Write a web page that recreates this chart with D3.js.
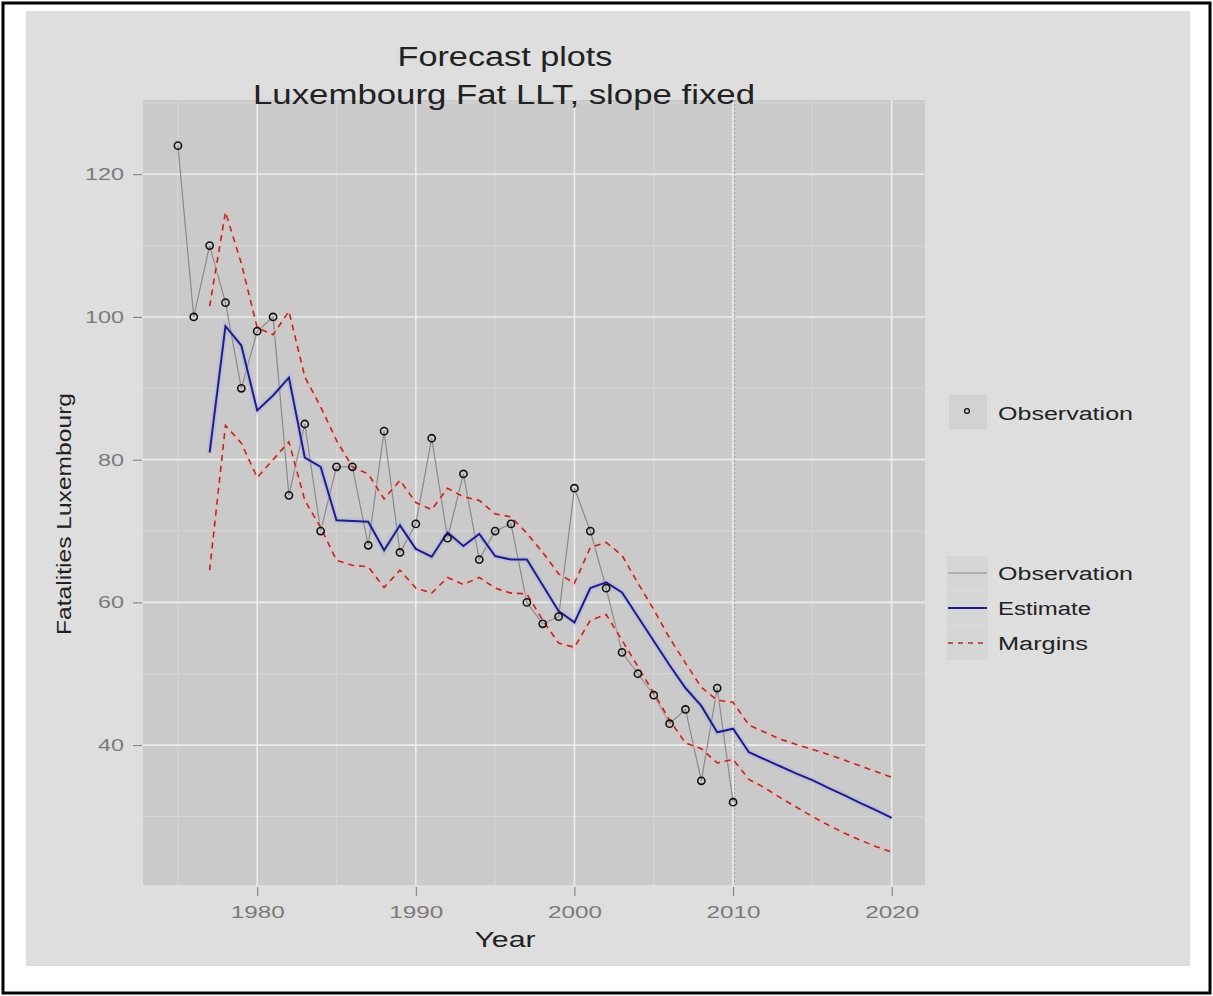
<!DOCTYPE html>
<html><head><meta charset="utf-8">
<script src="https://cdn.jsdelivr.net/npm/d3@7"></script>
<style>
html,body{margin:0;padding:0;background:#fff;}
svg{display:block;font-family:"Liberation Sans",Arial,sans-serif;}
</style></head>
<body>
<svg id="chart" width="1213" height="996"></svg>
<script>
// ---- data ----
const obsYears = d3.range(1975, 2011);
const observations = [124,100,110,102,90,98,100,75,85,70,79,79,68,84,67,71,83,69,78,66,70,71,60,57,58,76,70,62,53,50,47,43,45,35,48,32];
const estYears = d3.range(1977, 2021);
const estimate = [81,98.7,96,86.9,89,91.5,80.3,79,71.5,71.4,71.3,67.3,70.8,67.5,66.4,69.8,67.9,69.6,66.5,66,66,62.4,58.8,57.2,62,62.8,61.4,58,54.6,51.2,48,45.5,41.8,42.3,39,38,37,36,35.1,34,33,31.9,30.9,29.8];
const upperMargin = [101.5,114.7,107.5,98.5,97.5,100.8,91.6,87.4,82.7,79,78,74.5,77.1,74,73,76,74.8,74.3,72.4,72,69.7,67,64,62.7,67.7,68.4,66.6,62.7,59,55,51.5,48.1,46.3,46,42.8,41.8,40.8,40.1,39.4,38.7,37.9,37.1,36.3,35.5];
const lowerMargin = [64.5,84.8,82.3,77.5,80,82.5,74.3,70.5,65.9,65.2,65,62.1,64.5,62,61.3,63.5,62.5,63.5,62,61.3,61.2,57.5,54.3,53.7,57.5,58.3,54.7,51,47.3,43.5,40.3,39.5,37.5,38,35.2,34,32.6,31.3,30,28.8,27.7,26.7,25.8,25];
const xTicks = [1980,1990,2000,2010,2020];
const xMinorTicks = [1975,1985,1995,2005,2015];
const yTicks = [40,60,80,100,120];
const yMinorTicks = [30,50,70,90,110,130];
const forecastStart = 2010;
const titleLines = ["Forecast plots","Luxembourg Fat LLT, slope fixed"];
const legend1 = ["Observation"];
const legend2 = ["Observation","Estimate","Margins"];

// ---- layout ----
const svg = d3.select("#chart");
const P = {l:143, r:925, t:100, b:885};
const x = d3.scaleLinear().domain([1972.8, 2022.1]).range([P.l, P.r]);
const y = d3.scaleLinear().domain([20.4, 130.4]).range([P.b, P.t]);

// outer border + background
svg.append("rect").attr("x",3).attr("y",3).attr("width",1207).attr("height",990)
  .attr("fill","#fff").attr("stroke","#000").attr("stroke-width",3);
svg.append("rect").attr("x",26).attr("y",11).attr("width",1164).attr("height",955).attr("fill","#dedede");

// panel
svg.append("rect").attr("x",P.l).attr("y",P.t).attr("width",P.r-P.l).attr("height",P.b-P.t).attr("fill","#cacaca");
const grid = svg.append("g");
grid.selectAll(".vmin").data(xMinorTicks).join("line")
  .attr("x1",d=>x(d)).attr("x2",d=>x(d)).attr("y1",P.t).attr("y2",P.b)
  .attr("stroke","#d6d6d6").attr("stroke-width",1);
grid.selectAll(".hmin").data(yMinorTicks.filter(v=>y(v)>P.t&&y(v)<P.b)).join("line")
  .attr("x1",P.l).attr("x2",P.r).attr("y1",d=>y(d)).attr("y2",d=>y(d))
  .attr("stroke","#d6d6d6").attr("stroke-width",1);
grid.selectAll(".vmaj").data(xTicks).join("line")
  .attr("x1",d=>x(d)).attr("x2",d=>x(d)).attr("y1",P.t).attr("y2",P.b)
  .attr("stroke","#ececec").attr("stroke-width",1.6);
grid.selectAll(".hmaj").data(yTicks).join("line")
  .attr("x1",P.l).attr("x2",P.r).attr("y1",d=>y(d)).attr("y2",d=>y(d))
  .attr("stroke","#ececec").attr("stroke-width",1.6);

// forecast start line
svg.append("line").attr("x1",x(forecastStart)+1.5).attr("x2",x(forecastStart)+1.5).attr("y1",P.t).attr("y2",P.b)
  .attr("stroke","#9a9a9a").attr("stroke-width",1).attr("stroke-dasharray","2,2");

// lines
const obsData = obsYears.map((yr,i)=>[yr,observations[i]]);
const estData = estYears.map((yr,i)=>[yr,estimate[i]]);
const upData = estYears.map((yr,i)=>[yr,upperMargin[i]]);
const loData = estYears.map((yr,i)=>[yr,lowerMargin[i]]);
const line = d3.line().x(d=>x(d[0])).y(d=>y(d[1]));

svg.append("path").datum(obsData).attr("d",line).attr("fill","none").attr("stroke","#8a8a8a").attr("stroke-width",1.2);
[upData, loData].forEach(dat=>{
  svg.append("path").datum(dat).attr("d",line).attr("fill","none")
    .attr("stroke","#f2b8b8").attr("stroke-width",5).attr("stroke-opacity",0.35);
});
svg.append("path").datum(estData).attr("d",line).attr("fill","none")
  .attr("stroke","#a8a8e8").attr("stroke-width",6).attr("stroke-opacity",0.35);
[upData, loData].forEach(dat=>{
  svg.append("path").datum(dat).attr("d",line).attr("fill","none")
    .attr("stroke","#a8322a").attr("stroke-width",1.6).attr("stroke-dasharray","6,5");
});
svg.append("path").datum(estData).attr("d",line).attr("fill","none").attr("stroke","#1e1e86").attr("stroke-width",2);
svg.selectAll(".obs").data(obsData).join("circle")
  .attr("cx",d=>x(d[0])).attr("cy",d=>y(d[1])).attr("r",3.6)
  .attr("fill","none").attr("stroke","#111").attr("stroke-width",1.6);

// axes
const xAxis = d3.axisBottom(x).tickValues(xTicks).tickSize(9).tickPadding(6).tickFormat(d3.format("d"));
const gx = svg.append("g").attr("transform",`translate(0,${P.b+2})`).call(xAxis);
gx.select(".domain").remove();
gx.selectAll(".tick line").attr("stroke","#7a7a7a");
gx.selectAll(".tick text").attr("fill","#7a7a7a").attr("font-size",17)
  .attr("font-family","Liberation Sans, Arial, sans-serif")
  .attr("textLength",54).attr("lengthAdjust","spacingAndGlyphs").attr("dy","0.95em");

const yAxis = d3.axisLeft(y).tickValues(yTicks).tickSize(9).tickPadding(9);
const gy = svg.append("g").attr("transform",`translate(${P.l-1},0)`).call(yAxis);
gy.select(".domain").remove();
gy.selectAll(".tick line").attr("stroke","#7a7a7a");
gy.selectAll(".tick text").attr("fill","#7a7a7a").attr("font-size",17)
  .attr("font-family","Liberation Sans, Arial, sans-serif")
  .attr("textLength",d=>String(d).length*13).attr("lengthAdjust","spacingAndGlyphs");

// titles
const tt = svg.append("g").attr("font-family","Liberation Sans, Arial, sans-serif").attr("fill","#222");
tt.append("text").attr("x",505).attr("y",66).attr("text-anchor","middle").attr("font-size",27)
  .attr("textLength",215).attr("lengthAdjust","spacingAndGlyphs").text(titleLines[0]);
tt.append("text").attr("x",504).attr("y",104).attr("text-anchor","middle").attr("font-size",27)
  .attr("textLength",502).attr("lengthAdjust","spacingAndGlyphs").text(titleLines[1]);
tt.append("text").attr("x",505).attr("y",947).attr("text-anchor","middle").attr("font-size",22)
  .attr("textLength",61).attr("lengthAdjust","spacingAndGlyphs").text("Year");
tt.append("text").attr("transform","translate(71,514) rotate(-90)").attr("text-anchor","middle").attr("font-size",21)
  .attr("textLength",242).attr("lengthAdjust","spacingAndGlyphs").text("Fatalities Luxembourg");

// legends
const lg = svg.append("g").attr("font-family","Liberation Sans, Arial, sans-serif").attr("font-size",18).attr("fill","#222");
lg.append("rect").attr("x",949).attr("y",395).attr("width",38).attr("height",34).attr("fill","#d2d2d2");
lg.append("circle").attr("cx",967).attr("cy",411).attr("r",2.4).attr("fill","none").attr("stroke","#111").attr("stroke-width",1.3);
lg.append("text").attr("x",998).attr("y",420).attr("textLength",135).attr("lengthAdjust","spacingAndGlyphs").text(legend1[0]);

const rows = [573,608,643];
const keyStyles = [
  {stroke:"#8a8a8a", w:1.2, dash:null},
  {stroke:"#1e1e86", w:2, dash:null},
  {stroke:"#a8322a", w:1.6, dash:"5,5"}
];
legend2.forEach((name,i)=>{
  const cy = rows[i];
  lg.append("rect").attr("x",947).attr("y",cy-17).attr("width",41).attr("height",34).attr("fill","#d6d6d6");
  lg.append("line").attr("x1",948).attr("x2",987).attr("y1",cy).attr("y2",cy)
    .attr("stroke",keyStyles[i].stroke).attr("stroke-width",keyStyles[i].w)
    .attr("stroke-dasharray",keyStyles[i].dash);
  const widths = [135,93,90];
  lg.append("text").attr("x",998).attr("y",cy+7).attr("textLength",widths[i]).attr("lengthAdjust","spacingAndGlyphs").text(name);
});
</script>
</body></html>
